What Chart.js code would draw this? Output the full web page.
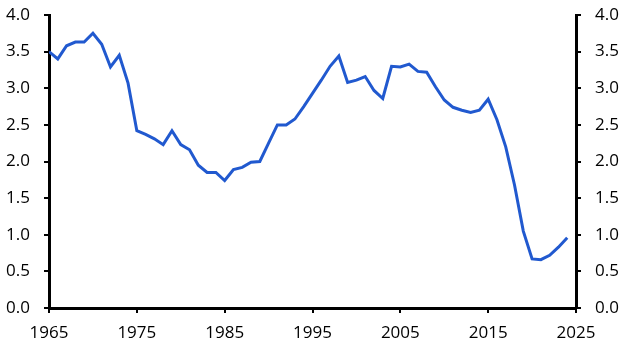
<!DOCTYPE html>
<html>
<head>
<meta charset="utf-8">
<script src="https://cdn.jsdelivr.net/npm/chart.js@4/dist/chart.umd.min.js"></script>
<style>
  html, body { margin: 0; padding: 0; background: #fff; }
</style>
</head>
<body>
<canvas id="rateChart" width="631" height="357"></canvas>
<script>
var years = [1965, 1966, 1967, 1968, 1969, 1970, 1971, 1972, 1973, 1974,
  1975, 1976, 1977, 1978, 1979, 1980, 1981, 1982, 1983, 1984,
  1985, 1986, 1987, 1988, 1989, 1990, 1991, 1992, 1993, 1994,
  1995, 1996, 1997, 1998, 1999, 2000, 2001, 2002, 2003, 2004,
  2005, 2006, 2007, 2008, 2009, 2010, 2011, 2012, 2013, 2014,
  2015, 2016, 2017, 2018, 2019, 2020, 2021, 2022, 2023, 2024];

var values = [3.50, 3.40, 3.58, 3.63, 3.63, 3.75, 3.60, 3.29, 3.45, 3.07,
  2.42, 2.37, 2.31, 2.23, 2.42, 2.23, 2.16, 1.95, 1.85, 1.85,
  1.74, 1.89, 1.92, 1.99, 2.00, 2.25, 2.50, 2.50, 2.58, 2.75,
  2.93, 3.11, 3.30, 3.44, 3.08, 3.11, 3.16, 2.97, 2.86, 3.30,
  3.29, 3.33, 3.23, 3.22, 3.02, 2.84, 2.74, 2.70, 2.67, 2.70,
  2.85, 2.57, 2.20, 1.68, 1.05, 0.67, 0.66, 0.72, 0.83, 0.96];

var xTicks = [1965, 1975, 1985, 1995, 2005, 2015, 2025];
var yTicks = [0, 0.5, 1, 1.5, 2, 2.5, 3, 3.5, 4];

var points = years.map(function (yr, i) { return { x: yr, y: values[i] }; });

var tickFont = { family: "'Open Sans', sans-serif", size: 17 };

function yAxis(pos, w) {
  return {
    type: "linear",
    position: pos,
    min: yTicks[0],
    max: yTicks[yTicks.length - 1],
    afterBuildTicks: function (s) { s.ticks = yTicks.map(function (v) { return { value: v }; }); },
    afterFit: function (s) {
      s.width = w;
      s.paddingTop = 0;
      s.paddingBottom = 0;
    },
    border: { display: true, color: "#000", width: 3 },
    grid: { drawOnChartArea: false, drawTicks: true, tickLength: 5, color: "#000", lineWidth: 2 },
    ticks: {
      color: "#000",
      font: tickFont,
      padding: 14,
      callback: function (v) { return Number(v).toFixed(1); }
    }
  };
}

var config = {
  type: "line",
  data: {
    datasets: [
      {
        label: "Series",
        data: points,
        borderColor: "#2159cf",
        borderWidth: 3,
        pointRadius: 0,
        tension: 0,
        fill: false,
        yAxisID: "y"
      }
    ]
  },
  options: {
    responsive: false,
    animation: false,
    devicePixelRatio: 1,
    layout: { padding: { top: 15, left: 0, right: 0, bottom: 0 } },
    plugins: { legend: { display: false }, tooltip: { enabled: false } },
    scales: {
      x: {
        type: "linear",
        min: xTicks[0],
        max: xTicks[xTicks.length - 1],
        afterBuildTicks: function (s) { s.ticks = xTicks.map(function (v) { return { value: v }; }); },
        afterFit: function (s) {
          s.height = 49;
          s.paddingLeft = 0;
          s.paddingRight = 0;
        },
        border: { display: true, color: "#000", width: 3 },
        grid: { drawOnChartArea: false, drawTicks: true, tickLength: 5, color: "#000", lineWidth: 2 },
        ticks: {
          color: "#000",
          font: tickFont,
          padding: 10,
          maxRotation: 0,
          callback: function (v) { return String(v); }
        }
      },
      y: yAxis("left", 49),
      y2: yAxis("right", 55)
    }
  }
};

var myChart = new Chart(document.getElementById("rateChart"), config);
</script>
</body>
</html>
